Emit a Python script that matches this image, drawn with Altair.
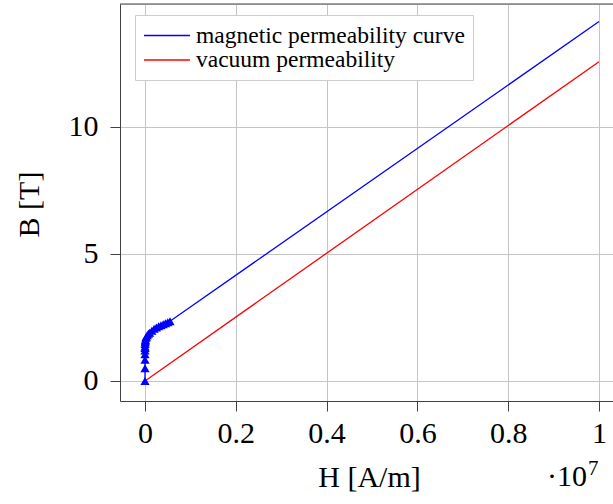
import altair as alt
import pandas as pd

# B-H curve samples (H in A/m, B in T)
bh_H = [0, 50, 100, 200, 400, 700, 1000, 2000, 4000, 7000, 10000, 20000, 30000,
        50000, 75000, 100000, 150000, 200000, 250000, 300000, 350000, 400000,
        450000, 500000, 550000]
bh_B = [0, 0.5, 0.83, 1.05, 1.2, 1.3, 1.36, 1.45, 1.52, 1.58, 1.62, 1.7, 1.74,
        1.8, 1.86, 1.9, 1.98, 2.05, 2.1, 2.15, 2.19, 2.23, 2.27, 2.31, 2.35]
# extension of the curve
ext_H = [10000000]
ext_B = [14.15]
# vacuum permeability line
vac_H = [0, 10000000]
vac_B = [0, 12.57]

series = ["magnetic permeability curve", "vacuum permeability"]
colors = ["#0000ff", "#ff0000"]
x_ticks = [0, 2000000, 4000000, 6000000, 8000000, 10000000]
y_ticks = [0, 5, 10]

FONT = "'Liberation Serif', 'DejaVu Serif', serif"
FRAME = "#404040"
GRID = "#c4c4c4"

blue_df = pd.DataFrame({"H": bh_H + ext_H, "B": bh_B + ext_B, "s": series[0]})
pts_df = pd.DataFrame({"H": bh_H, "B": bh_B})
red_df = pd.DataFrame({"H": vac_H, "B": vac_B, "s": series[1]})

xs = alt.Scale(domain=[-551000, 10308000], nice=False, zero=False)
ys = alt.Scale(domain=[-0.79, 14.84], nice=False, zero=False)

xax = alt.Axis(values=x_ticks, title="H [A/m]",
               labelExpr="format(datum.value/10000000, '.1~f')",
               grid=True, gridColor=GRID, domainColor=FRAME, tickColor=FRAME,
               tickSize=10, labelPadding=7, labelFont=FONT, labelFontSize=30,
               labelColor="black", titleFont=FONT, titleFontSize=30,
               titleFontWeight="normal", titleColor="black",
               titleX=249, titleY=85, titleBaseline="alphabetic", titleAlign="center")
yax = alt.Axis(values=y_ticks, title="B [T]", format="d",
               grid=True, gridColor=GRID, domainColor=FRAME, tickColor=FRAME,
               tickSize=10, labelPadding=12, labelFont=FONT, labelFontSize=30,
               labelColor="black", titleFont=FONT, titleFontSize=30,
               titleFontWeight="normal", titleColor="black",
               titleX=-91, titleY=200, titleBaseline="middle", titleAlign="center",
               titleAngle=270)

color = alt.Color("s:N", scale=alt.Scale(domain=series, range=colors),
                  legend=alt.Legend(title=None, orient="none", legendX=15, legendY=11,
                                    symbolType="M-1,0H3", symbolSize=529,
                                    symbolStrokeWidth=1.4, rowPadding=0.5,
                                    labelFont=FONT, labelFontSize=23.5,
                                    labelColor="black", labelOffset=28,
                                    padding=8, strokeColor="#cccccc",
                                    fillColor="white", labelLimit=400))

blue = alt.Chart(blue_df).mark_line(strokeWidth=1.3).encode(
    x=alt.X("H:Q", scale=xs, axis=xax),
    y=alt.Y("B:Q", scale=ys, axis=yax),
    color=color, order=alt.Order("H:Q"))
red = alt.Chart(red_df).mark_line(strokeWidth=1.3).encode(
    x=alt.X("H:Q", scale=xs), y=alt.Y("B:Q", scale=ys), color=color)
pts = alt.Chart(pts_df).mark_point(shape="triangle-up", filled=True, size=85,
                                   color="#0000ff", opacity=1).encode(
    x=alt.X("H:Q", scale=xs), y=alt.Y("B:Q", scale=ys))

one = pd.DataFrame({"k": [0]})
top = alt.Chart(one).mark_rule(color=FRAME, strokeWidth=1).encode(
    x=alt.value(0), x2=alt.value(493), y=alt.value(0))
mult = alt.Chart(one).mark_text(font=FONT, fontSize=30, align="right",
                                baseline="alphabetic", color="black").encode(
    x=alt.value(467), y=alt.value(482), text=alt.value("\u00b710"))
sup = alt.Chart(one).mark_text(font=FONT, fontSize=21, align="left",
                               baseline="alphabetic", color="black").encode(
    x=alt.value(468), y=alt.value(471), text=alt.value("7"))

chart = alt.layer(blue, red, pts, top, mult, sup).properties(
    width=493, height=397,
    padding={"left": 120, "top": 4, "right": 0, "bottom": 103},
    autosize=alt.AutoSizeParams(type="none"),
).configure_view(stroke=None).configure(background="white")

chart.save("out.html", embed_options={"renderer": "svg", "actions": False})
